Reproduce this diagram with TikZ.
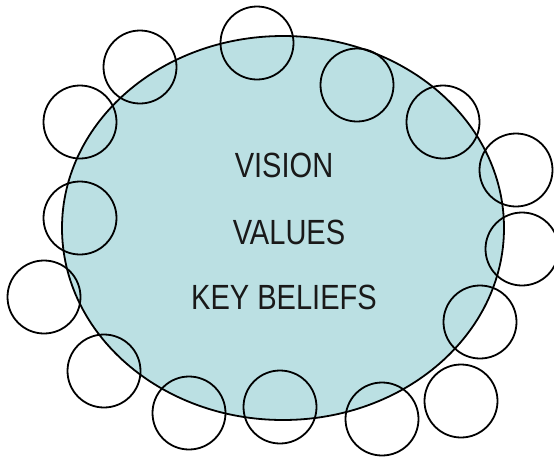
\documentclass[tikz,border=0pt]{standalone}
\usepackage{fontspec}
\setmainfont{Liberation Sans}
\definecolor{coreteal}{RGB}{187,224,227}
\tikzset{
  core/.style={draw,ellipse,fill=coreteal,line width=1.8pt},
  member/.style={circle,draw,line width=1.8pt,minimum size=73pt,inner sep=0pt},
  word/.style={font=\fontsize{35}{40}\selectfont,xscale=0.83,text=black!90}
}
\usetikzlibrary{shapes.geometric}
\begin{document}
\begin{tikzpicture}[x=1pt,y=-1pt]
\useasboundingbox (0,0) rectangle (554,456);

\node[core,minimum width=442pt,minimum height=384pt,inner sep=0pt] (core) at (283,228) {};

\node[word] (vision) at (284,165) {VISION};
\node[word] (values) at (289,232) {VALUES};
\node[word] (beliefs) at (284,297) {KEY BELIEFS};

% the ring of circles round the edge
\foreach \x/\y [count=\i] in {257/43,357/85,443/122,516/170,522/249,480/322,
    461/401,382/419,280/407,189/413,104/371,44/297,80/218,80/122,140/67}
  \node[member] (m\i) at (\x,\y) {};
\end{tikzpicture}
\end{document}
